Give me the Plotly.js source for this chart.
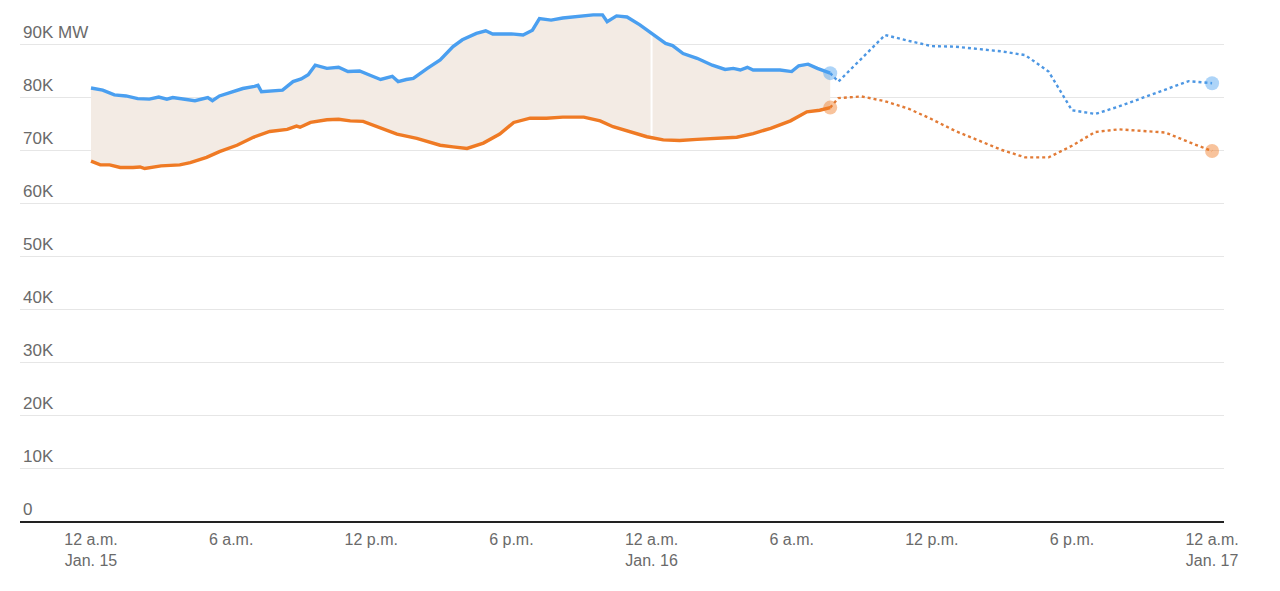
<!DOCTYPE html>
<html>
<head>
<meta charset="utf-8">
<script src="https://cdn.plot.ly/plotly-3.0.1.min.js"></script>
<style>html,body{margin:0;padding:0;background:#fff}#chart{width:1280px;height:591px}</style>
</head>
<body>
<div id="chart"></div>
<script>
// Hours since 12 a.m. Jan. 15
const demandHours = [0.0,0.3,0.5,1.0,1.5,2.0,2.5,2.9,3.25,3.5,4.0,4.45,5.0,5.2,5.5,6.0,6.5,7.0,7.15,7.3,7.7,8.0,8.2,8.65,9.0,9.3,9.6,10.1,10.6,11.0,11.5,12.0,12.4,12.9,13.15,13.5,13.8,14.4,14.95,15.5,15.9,16.5,16.9,17.2,18.0,18.5,18.9,19.2,19.7,20.2,20.9,21.5,21.9,22.1,22.5,22.95,23.5,24.0,24.6,24.9,25.35,25.95,26.6,27.15,27.5,27.8,28.1,28.35,29.0,29.5,30.0,30.3,30.7,31.1,31.65];
const demandMW = [81700,81500,81300,80400,80200,79700,79600,80000,79600,79900,79600,79300,79900,79300,80200,80900,81600,82000,82200,81000,81100,81200,81300,82900,83400,84200,86000,85400,85600,84800,84900,84000,83300,83900,82900,83300,83500,85400,87000,89500,90800,92000,92500,91900,91900,91700,92600,94800,94500,94900,95300,95500,95500,94200,95300,95100,93600,92000,90100,89700,88200,87300,86000,85200,85400,85100,85600,85100,85100,85100,84800,85900,86200,85400,84500];

const supplyHours = [0.0,0.4,0.8,1.25,1.8,2.1,2.3,3.0,3.8,4.25,4.95,5.5,6.25,6.95,7.65,8.4,8.8,8.95,9.4,10.1,10.6,11.1,11.65,12.4,13.1,13.95,14.95,15.5,16.1,16.8,17.5,18.1,18.8,19.5,20.2,21.1,21.8,22.35,23.1,23.8,24.5,25.2,25.95,26.95,27.65,28.35,29.1,29.95,30.65,31.2,31.65];
const supplyMW = [67900,67200,67200,66700,66700,66800,66500,67000,67200,67600,68600,69700,70900,72400,73500,73900,74500,74300,75200,75700,75800,75500,75400,74100,73000,72200,70900,70600,70300,71300,73000,75200,76000,76000,76200,76200,75500,74400,73500,72500,71900,71800,72000,72200,72400,73100,74100,75500,77200,77500,78000];

const forecastHours = [31.65,32,33,34,35,36,37,38,39,40,41,42,43,44,45,46,47,48];
const demandForecastMW = [84500,82900,87300,91700,90600,89600,89500,89000,88600,87900,84800,77500,76800,78200,79800,81500,83000,82600];
const supplyForecastMW = [78000,79800,80100,79200,77800,75800,73600,71800,70000,68600,68600,70800,73400,73900,73600,73300,71500,69800];

const tickHours = [0,6,12,18,24,30,36,42,48];
const tickLabels = ['12 a.m.<br>Jan. 15','6 a.m.','12 p.m.','6 p.m.','12 a.m.<br>Jan. 16','6 a.m.','12 p.m.','6 p.m.','12 a.m.<br>Jan. 17'];
const yTicks = [0,10000,20000,30000,40000,50000,60000,70000,80000,90000];
const yLabels = ['0','10K','20K','30K','40K','50K','60K','70K','80K','90K MW'];
const dayBreak = 24;

const BLUE = '#4a9ff0';
const ORANGE = '#ef7a24';

function interp(xs, ys, x) {
  for (let i = 0; i < xs.length - 1; i++) {
    if (x >= xs[i] && x <= xs[i+1]) {
      const t = (x - xs[i]) / (xs[i+1] - xs[i]);
      return ys[i] + t * (ys[i+1] - ys[i]);
    }
  }
  return ys[ys.length-1];
}

const lastD = demandHours.length - 1, lastS = supplyHours.length - 1, lastF = forecastHours.length - 1;

const traces = [
  {x: supplyHours, y: supplyMW, mode: 'lines', line: {width: 0, color: 'rgba(0,0,0,0)'}, hoverinfo: 'skip', showlegend: false},
  {x: demandHours, y: demandMW, mode: 'lines', line: {width: 0, color: 'rgba(0,0,0,0)'}, fill: 'tonexty', fillcolor: '#f3ebe4', hoverinfo: 'skip', showlegend: false},
  {x: [dayBreak, dayBreak], y: [interp(supplyHours, supplyMW, dayBreak), interp(demandHours, demandMW, dayBreak)], mode: 'lines', line: {width: 2, color: '#ffffff'}, hoverinfo: 'skip', showlegend: false},
  {x: forecastHours, y: demandForecastMW, mode: 'lines', line: {width: 2.4, color: '#4d97e3', dash: 'dot'}, hoverinfo: 'skip', showlegend: false},
  {x: forecastHours, y: supplyForecastMW, mode: 'lines', line: {width: 2.4, color: '#e27b36', dash: 'dot'}, hoverinfo: 'skip', showlegend: false},
  {x: supplyHours, y: supplyMW, mode: 'lines', line: {width: 3.4, color: ORANGE}, hoverinfo: 'skip', showlegend: false},
  {x: demandHours, y: demandMW, mode: 'lines', line: {width: 3.4, color: BLUE}, hoverinfo: 'skip', showlegend: false},
  {x: [demandHours[lastD], forecastHours[lastF]], y: [demandMW[lastD], demandForecastMW[lastF]], mode: 'markers', marker: {size: 14, color: 'rgba(74,159,240,0.45)', line: {width: 0}}, hoverinfo: 'skip', showlegend: false, cliponaxis: false},
  {x: [supplyHours[lastS], forecastHours[lastF]], y: [supplyMW[lastS], supplyForecastMW[lastF]], mode: 'markers', marker: {size: 14, color: 'rgba(239,122,36,0.45)', line: {width: 0}}, hoverinfo: 'skip', showlegend: false, cliponaxis: false}
];

const layout = {
  width: 1280, height: 591,
  margin: {l: 20, r: 56, t: 5, b: 70},
  paper_bgcolor: '#ffffff', plot_bgcolor: '#ffffff',
  font: {family: 'Liberation Sans, Arial, sans-serif', color: '#6a6a6a', size: 16},
  xaxis: {
    range: [-3.04, 48.51], tickvals: tickHours, ticktext: tickLabels,
    showgrid: false, zeroline: false, showline: true, linecolor: '#222222', linewidth: 2,
    ticks: '', ticklabelstandoff: 3, tickfont: {size: 16, color: '#6a6a6a'}, fixedrange: true
  },
  yaxis: {
    range: [0, 97358], tickvals: yTicks, ticktext: yLabels,
    showgrid: true, gridcolor: '#e6e6e6', gridwidth: 1, zeroline: false, showline: false,
    ticks: '', ticklabelposition: 'inside top', tickfont: {size: 17, color: '#6a6a6a'}, fixedrange: true
  },
  showlegend: false,
  hovermode: false
};

Plotly.newPlot('chart', traces, layout, {displayModeBar: false, staticPlot: true});
</script>
</body>
</html>
